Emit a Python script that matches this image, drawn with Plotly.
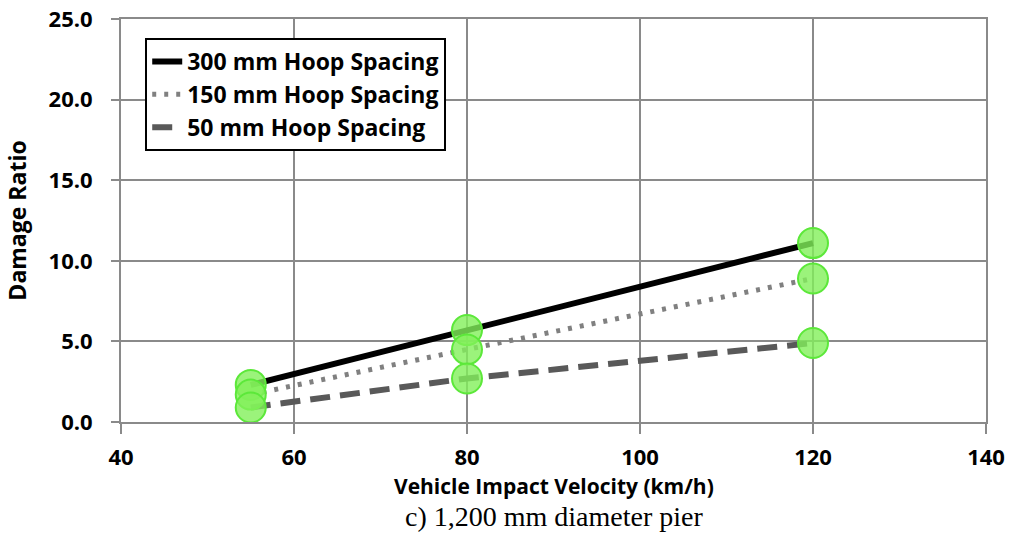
import plotly.graph_objects as go

# velocità d'impatto (km/h) e damage ratio
velocity = [55, 80, 120]
hoop_300 = [2.3, 5.7, 11.1]
hoop_150 = [1.7, 4.5, 8.9]
hoop_50 = [0.9, 2.7, 4.9]

series = [
    ("300 mm Hoop Spacing", hoop_300, dict(color="#000000", width=6, dash="solid")),
    ("150 mm Hoop Spacing", hoop_150, dict(color="#808080", width=5, dash="4px,8px")),
    ("50 mm Hoop Spacing", hoop_50, dict(color="#595959", width=6, dash="20px,10px")),
]

fig = go.Figure()
for i, (name, ys, line) in enumerate(series):
    fig.add_trace(go.Scatter(x=velocity, y=ys, mode="lines", name=name, line=line,
                             legendgroup=f"g{i}"))

# i cerchi verdi sopra le linee
for name, ys, _ in series:
    fig.add_trace(go.Scatter(
        x=velocity, y=ys, mode="markers", showlegend=False,
        marker=dict(size=30, color="rgba(130,240,90,0.8)",
                    line=dict(color="#5ce83a", width=2)),
    ))

FONT = "Open Sans, Noto Sans, sans-serif"

fig.update_layout(
    width=1016, height=539,
    paper_bgcolor="white", plot_bgcolor="white",
    margin=dict(l=121, r=30, t=19, b=117),
    font=dict(family=FONT, size=22, color="#000000"),
    legend=dict(
        x=0.028, y=0.953, xanchor="left", yanchor="top",
        bgcolor="white", bordercolor="#000000", borderwidth=2,
        font=dict(family=FONT, size=23, color="#000000", weight="bold"),
        traceorder="grouped", tracegroupgap=0,
    ),
    annotations=[
        # titolo asse x, messo a mano per stare più vicino ai numeri
        dict(text="<b>Vehicle Impact Velocity (km/h)</b>", x=0.5, y=-0.16,
             xref="paper", yref="paper", xanchor="center", yanchor="middle",
             showarrow=False, font=dict(family=FONT, size=21, color="#000000")),
        dict(text="c) 1,200 mm diameter pier", x=0.5, y=-0.235, xref="paper", yref="paper",
             xanchor="center", yanchor="middle", showarrow=False,
             font=dict(family="Liberation Serif, Times New Roman, serif", size=28, color="#000000")),
    ],
)

fig.update_xaxes(
    range=[40, 140], tickvals=[40, 60, 80, 100, 120, 140],
    showgrid=True, gridcolor="#8a8a8a", gridwidth=2,
    showline=True, linecolor="#8a8a8a", linewidth=2, mirror=True,
    ticks="outside", ticklen=10, tickcolor="#8a8a8a", tickwidth=2,
    ticklabelstandoff=5, zeroline=False, automargin=False,
    tickfont=dict(family=FONT, size=22, weight="bold"),
)
fig.update_yaxes(
    range=[0, 25], tickvals=[0, 5, 10, 15, 20, 25], tickformat=".1f",
    showgrid=True, gridcolor="#8a8a8a", gridwidth=2,
    showline=True, linecolor="#8a8a8a", linewidth=2, mirror=True,
    ticks="outside", ticklen=8, tickcolor="#8a8a8a", tickwidth=2,
    ticklabelstandoff=14, zeroline=False, automargin=False,
    tickfont=dict(family=FONT, size=22, weight="bold"),
    title=dict(text="Damage Ratio", standoff=16,
               font=dict(family=FONT, size=23, weight="bold")),
)

fig.write_html("out.html", config={"displayModeBar": False},
               post_script="document.body.style.margin='0';")
